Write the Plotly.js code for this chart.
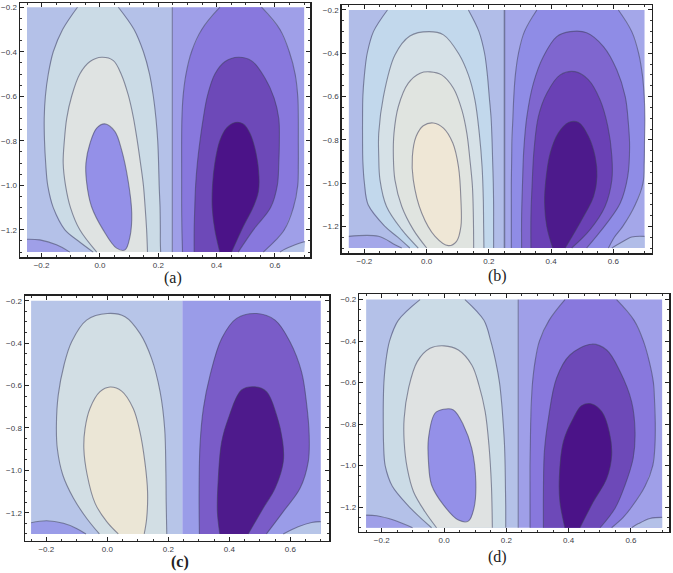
<!DOCTYPE html>
<html>
<head>
<meta charset="utf-8">
<script src="https://cdn.plot.ly/plotly-3.0.1.min.js"></script>
<style>
  html, body { margin: 0; padding: 0; background: #fff; }
  #chart { width: 673px; height: 573px; }
</style>
</head>
<body>
<div id="chart"></div>
<script>
// y values shared by the contours that run from the top edge to the bottom edge
const y_levels = [-0.2, -0.3, -0.4, -0.5, -0.6, -0.7, -0.8, -0.9, -1.0, -1.1, -1.2, -1.25, -1.3]
const y_bg = [-0.2, -0.2, -1.3, -1.3]

// panel a
const a_divider = 0.248
const a_c1_left = [-0.077, -0.128, -0.160, -0.177, -0.187, -0.191, -0.190, -0.186, -0.179, -0.160, -0.120, -0.074, -0.023]
const a_c1_right = [0.063, 0.117, 0.149, 0.170, 0.183, 0.192, 0.198, 0.201, 0.203, 0.206, 0.207, 0.207, 0.208]
const a_c2_x = [-0.011, -0.069, -0.101, -0.118, -0.126, -0.122, -0.114, -0.097, -0.069, -0.034, 0.006, 0.046, 0.074, 0.097, 0.114, 0.128, 0.139, 0.149, 0.155, 0.160, 0.163]
const a_c2_y = [-1.3, -1.2, -1.1, -1.0, -0.9, -0.8, -0.7, -0.6, -0.5, -0.444, -0.425, -0.44, -0.504, -0.594, -0.691, -0.8, -0.9, -1.0, -1.1, -1.2, -1.3]
const a_c3_x = [0.017, -0.011, -0.034, -0.048, -0.046, -0.029, 0.011, 0.057, 0.086, 0.103, 0.109, 0.097, 0.074, 0.051, 0.017]
const a_c3_y = [-0.724, -0.743, -0.811, -0.9, -0.983, -1.095, -1.2, -1.282, -1.29, -1.23, -1.125, -0.983, -0.84, -0.758, -0.724]
const a_r1_left = [0.411, 0.349, 0.314, 0.295, 0.285, 0.281, 0.280, 0.280, 0.280, 0.280, 0.281, 0.282, 0.283]
const a_r1_right = [0.554, 0.617, 0.649, 0.669, 0.678, 0.680, 0.680, 0.680, 0.678, 0.663, 0.632, 0.600, 0.560]
const a_r2_x = [0.323, 0.323, 0.325, 0.328, 0.334, 0.343, 0.354, 0.368, 0.394, 0.429, 0.474, 0.520, 0.566, 0.597, 0.613, 0.615, 0.613, 0.608, 0.585, 0.526, 0.474]
const a_r2_y = [-1.3, -1.2, -1.1, -1.0, -0.9, -0.8, -0.7, -0.6, -0.5, -0.444, -0.425, -0.441, -0.519, -0.608, -0.7, -0.8, -0.9, -1.0, -1.1, -1.2, -1.3]
const a_r3_x = [0.411, 0.394, 0.385, 0.386, 0.394, 0.411, 0.434, 0.463, 0.491, 0.514, 0.535, 0.545, 0.543, 0.526, 0.491, 0.451]
const a_r3_y = [-1.3, -1.2, -1.1, -1.0, -0.9, -0.8, -0.743, -0.718, -0.724, -0.766, -0.856, -0.96, -1.028, -1.095, -1.185, -1.3]
const a_bl_x = [-0.25, -0.206, -0.149, -0.103]
const a_bl_y = [-1.242, -1.245, -1.267, -1.3]
const a_br_x = [0.703, 0.669, 0.629, 0.617]
const a_br_y = [-1.252, -1.267, -1.29, -1.3]

// panel b
const b_divider = 0.25
const b_c1_left = [-0.126, -0.171, -0.191, -0.200, -0.205, -0.206, -0.206, -0.205, -0.200, -0.188, -0.134, -0.093, -0.054]
const b_c1_right = [0.134, 0.168, 0.186, 0.195, 0.201, 0.207, 0.210, 0.212, 0.214, 0.215, 0.215, 0.215, 0.215]
const b_c2_x = [-0.027, -0.08, -0.129, -0.15, -0.154, -0.154, -0.139, -0.102, -0.054, 0.008, 0.054, 0.102, 0.134, 0.155, 0.169, 0.178, 0.182, 0.183, 0.184]
const b_c2_y = [-1.3, -1.215, -1.108, -0.985, -0.877, -0.769, -0.6, -0.408, -0.32, -0.3, -0.315, -0.4, -0.5, -0.615, -0.769, -0.923, -1.077, -1.2, -1.3]
const b_c3_x = [0, -0.043, -0.08, -0.102, -0.107, -0.105, -0.091, -0.059, -0.021, 0.011, 0.048, 0.086, 0.113, 0.129, 0.139, 0.147, 0.15, 0.151]
const b_c3_y = [-1.3, -1.215, -1.108, -0.985, -0.877, -0.769, -0.646, -0.538, -0.492, -0.486, -0.5, -0.562, -0.662, -0.769, -0.892, -1.015, -1.154, -1.3]
const b_c4_x = [0.021, -0.011, -0.034, -0.046, -0.043, -0.016, 0.027, 0.07, 0.096, 0.11, 0.11, 0.102, 0.084, 0.054, 0.021]
const b_c4_y = [-0.722, -0.735, -0.785, -0.877, -0.985, -1.138, -1.246, -1.289, -1.269, -1.2, -1.077, -0.923, -0.815, -0.746, -0.722]
const b_r1_left = [0.354, 0.314, 0.295, 0.285, 0.280, 0.277, 0.274, 0.273, 0.272, 0.272, 0.272, 0.272, 0.272]
const b_r1_right = [0.616, 0.659, 0.681, 0.693, 0.699, 0.701, 0.700, 0.699, 0.695, 0.670, 0.630, 0.603, 0.584]
const b_r2_x = [0.305, 0.305, 0.308, 0.312, 0.322, 0.343, 0.375, 0.418, 0.461, 0.514, 0.568, 0.611, 0.638, 0.648, 0.652, 0.646, 0.622, 0.579, 0.536, 0.514]
const b_r2_y = [-1.3, -1.154, -1.0, -0.846, -0.692, -0.538, -0.415, -0.323, -0.3, -0.305, -0.369, -0.477, -0.6, -0.723, -0.831, -0.969, -1.092, -1.185, -1.262, -1.3]
const b_r3_x = [0.335, 0.335, 0.339, 0.345, 0.359, 0.386, 0.429, 0.477, 0.52, 0.557, 0.582, 0.595, 0.595, 0.573, 0.525, 0.466]
const b_r3_y = [-1.3, -1.154, -1.0, -0.846, -0.692, -0.585, -0.5, -0.485, -0.523, -0.615, -0.738, -0.877, -0.985, -1.108, -1.215, -1.3]
const b_r4_x = [0.405, 0.386, 0.379, 0.383, 0.397, 0.423, 0.456, 0.488, 0.52, 0.541, 0.547, 0.536, 0.498, 0.445]
const b_r4_y = [-1.3, -1.2, -1.092, -0.985, -0.862, -0.769, -0.72, -0.72, -0.785, -0.877, -0.969, -1.062, -1.169, -1.3]
const b_bl_x = [-0.25, -0.155, -0.102, -0.08]
const b_bl_y = [-1.246, -1.246, -1.285, -1.3]
const b_br_x = [0.70, 0.659, 0.622, 0.595]
const b_br_y = [-1.246, -1.249, -1.277, -1.3]

// panel c
const c_divider = 0.246
const c_c1_x = [-0.026, -0.068, -0.111, -0.146, -0.164, -0.167, -0.161, -0.142, -0.117, -0.068, 0, 0.058, 0.107, 0.145, 0.173, 0.188, 0.192, 0.193, 0.195]
const c_c1_y = [-1.3, -1.226, -1.132, -1.022, -0.897, -0.787, -0.645, -0.503, -0.393, -0.291, -0.26, -0.275, -0.354, -0.472, -0.629, -0.803, -1.007, -1.148, -1.3]
const c_c2_x = [0.036, -0.002, -0.04, -0.066, -0.077, -0.073, -0.057, -0.024, 0.009, 0.047, 0.085, 0.107, 0.123, 0.132, 0.129, 0.121]
const c_c2_y = [-1.3, -1.242, -1.156, -1.022, -0.897, -0.802, -0.708, -0.629, -0.607, -0.626, -0.708, -0.818, -0.959, -1.101, -1.227, -1.3]
const c_r1_x = [0.302, 0.301, 0.304, 0.315, 0.337, 0.375, 0.424, 0.49, 0.55, 0.599, 0.637, 0.654, 0.662, 0.659, 0.632, 0.577, 0.522]
const c_r1_y = [-1.3, -1.101, -0.881, -0.708, -0.551, -0.378, -0.283, -0.26, -0.291, -0.393, -0.535, -0.692, -0.834, -0.959, -1.085, -1.195, -1.3]
const c_r2_x = [0.369, 0.361, 0.364, 0.375, 0.397, 0.44, 0.484, 0.522, 0.555, 0.575, 0.577, 0.55, 0.511, 0.462]
const c_r2_y = [-1.3, -1.195, -1.038, -0.865, -0.755, -0.621, -0.606, -0.629, -0.739, -0.865, -0.959, -1.085, -1.179, -1.3]
const c_bl_x = [-0.25, -0.199, -0.144, -0.101, -0.07]
const c_bl_y = [-1.247, -1.238, -1.25, -1.274, -1.3]
const c_br_x = [0.70, 0.67, 0.626, 0.577]
const c_br_y = [-1.242, -1.246, -1.266, -1.3]

// panel d
const d_divider = 0.238
const d_c1_left = [-0.077, -0.147, -0.175, -0.187, -0.193, -0.195, -0.195, -0.194, -0.189, -0.166, -0.111, -0.077, -0.04]
const d_c1_right = [0.067, 0.128, 0.15, 0.166, 0.178, 0.185, 0.19, 0.194, 0.196, 0.197, 0.198, 0.198, 0.198]
const d_c2_x = [-0.024, -0.061, -0.098, -0.118, -0.128, -0.128, -0.114, -0.086, -0.045, 0, 0.046, 0.089, 0.112, 0.132, 0.144, 0.152, 0.155]
const d_c2_y = [-1.3, -1.223, -1.126, -1.014, -0.885, -0.772, -0.628, -0.499, -0.435, -0.423, -0.443, -0.515, -0.612, -0.74, -0.9, -1.093, -1.3]
const d_c3_x = [-0.002, -0.029, -0.05, -0.05, -0.04, -0.002, 0.046, 0.078, 0.096, 0.102, 0.089, 0.062, 0.03, -0.002]
const d_c3_y = [-0.729, -0.748, -0.869, -0.981, -1.094, -1.19, -1.263, -1.268, -1.206, -1.078, -0.917, -0.804, -0.732, -0.729]
const d_r1_left = [0.388, 0.337, 0.306, 0.292, 0.284, 0.28, 0.278, 0.277, 0.276, 0.276, 0.276, 0.276, 0.276]
const d_r1_right = [0.554, 0.61, 0.64, 0.659, 0.672, 0.676, 0.678, 0.677, 0.67, 0.645, 0.602, 0.575, 0.538]
const d_r2_x = [0.319, 0.319, 0.322, 0.335, 0.361, 0.404, 0.474, 0.522, 0.565, 0.602, 0.613, 0.607, 0.581, 0.549, 0.501]
const d_r2_y = [-1.3, -1.126, -0.933, -0.772, -0.579, -0.467, -0.415, -0.443, -0.547, -0.692, -0.836, -0.965, -1.094, -1.206, -1.3]
const d_r3_x = [0.388, 0.372, 0.37, 0.383, 0.415, 0.442, 0.474, 0.506, 0.53, 0.538, 0.522, 0.479, 0.436]
const d_r3_y = [-1.3, -1.175, -1.062, -0.885, -0.772, -0.711, -0.703, -0.74, -0.836, -0.949, -1.062, -1.175, -1.3]
const d_bl_x = [-0.25, -0.216, -0.162, -0.101]
const d_bl_y = [-1.239, -1.242, -1.263, -1.3]
const d_br_x = [0.70, 0.661, 0.624, 0.602]
const d_br_y = [-1.25, -1.255, -1.28, -1.3]

const tick_vals_y = [-0.2, -0.4, -0.6, -0.8, -1.0, -1.2]
const tick_vals_x = [-0.2, 0.0, 0.2, 0.4, 0.6]
const panel_labels = ['(a)', '(b)', '(c)', '(d)']

const page_w = 673
const page_h = 573
const contour_line = { color: 'rgba(62, 64, 92, 0.55)', width: 1.1, shape: 'spline', smoothing: 1 }

let data = []

const fillTrace = (axes, xs, ys, color, shape) => ({
    x: xs, y: ys, xaxis: axes[0], yaxis: axes[1],
    type: 'scatter', mode: 'lines', fill: 'toself', fillcolor: color,
    line: { width: 0, shape: shape, smoothing: 1 }, hoverinfo: 'skip', showlegend: false
})
const lineTrace = (axes, xs, ys, line) => ({
    x: xs, y: ys, xaxis: axes[0], yaxis: axes[1],
    type: 'scatter', mode: 'lines', line: line,
    hoverinfo: 'skip', showlegend: false
})

const addBands = (axes, divider, left_color, right_color) => {
    data.push(fillTrace(axes, [-0.25, divider, divider, -0.25], y_bg, left_color, 'linear'))
    data.push(fillTrace(axes, [divider, 0.7, 0.7, divider], y_bg, right_color, 'linear'))
}
// two arcs: the fill has square corners on the plot edge, the lines on top are smoothed
const addOpen = (axes, left, right, color) => {
    let xs = left.concat(right.slice().reverse())
    let ys = y_levels.concat(y_levels.slice().reverse())
    data.push(fillTrace(axes, xs, ys, color, 'linear'))
    data.push(lineTrace(axes, left, y_levels, contour_line))
    data.push(lineTrace(axes, right, y_levels, contour_line))
}
const addLoop = (axes, xs, ys, color) => {
    data.push(fillTrace(axes, xs, ys, color, 'spline'))
    data.push(lineTrace(axes, xs, ys, contour_line))
}
const addCorner = (axes, xs, ys, corner_x, color) => {
    data.push(fillTrace(axes, xs.concat([corner_x]), ys.concat([-1.3]), color, 'linear'))
    data.push(lineTrace(axes, xs, ys, contour_line))
}
const addDivider = (axes, divider, width) => {
    data.push(lineTrace(axes, [divider, divider], [-0.2, -1.3], { color: 'rgba(70, 76, 110, 0.65)', width: width }))
}

// a
let axes_a = ['x', 'y']
addBands(axes_a, a_divider, '#b4c1e8', '#9f9fe8')
addOpen(axes_a, a_c1_left, a_c1_right, '#cbdbe6')
addLoop(axes_a, a_c2_x, a_c2_y, '#dfe3e2')
addLoop(axes_a, a_c3_x, a_c3_y, '#9490e8')
addOpen(axes_a, a_r1_left, a_r1_right, '#8878dd')
addLoop(axes_a, a_r2_x, a_r2_y, '#6d49b8')
addLoop(axes_a, a_r3_x, a_r3_y, '#4b1388')
addCorner(axes_a, a_bl_x, a_bl_y, -0.25, '#9f9fe8')
addCorner(axes_a, a_br_x, a_br_y, 0.7, '#b4c1e8')
addDivider(axes_a, a_divider, 1)

// b
let axes_b = ['x2', 'y2']
addBands(axes_b, b_divider, '#b1bde8', '#a4a7e9')
addOpen(axes_b, b_c1_left, b_c1_right, '#c2d8ec')
addLoop(axes_b, b_c2_x, b_c2_y, '#d6e1e7')
addLoop(axes_b, b_c3_x, b_c3_y, '#e0e4e0')
addLoop(axes_b, b_c4_x, b_c4_y, '#efe7d6')
addOpen(axes_b, b_r1_left, b_r1_right, '#8f8ce6')
addLoop(axes_b, b_r2_x, b_r2_y, '#7f66cf')
addLoop(axes_b, b_r3_x, b_r3_y, '#6a41b5')
addLoop(axes_b, b_r4_x, b_r4_y, '#4d1a8c')
addCorner(axes_b, b_bl_x, b_bl_y, -0.25, '#a4a7e9')
addCorner(axes_b, b_br_x, b_br_y, 0.7, '#b1bde8')
addDivider(axes_b, b_divider, 1.5)

// c has no visible line on the divider
let axes_c = ['x3', 'y3']
addBands(axes_c, c_divider, '#b7c5e8', '#9a9ce8')
addLoop(axes_c, c_c1_x, c_c1_y, '#d2dee4')
addLoop(axes_c, c_c2_x, c_c2_y, '#ebe6d6')
addLoop(axes_c, c_r1_x, c_r1_y, '#7a5cc8')
addLoop(axes_c, c_r2_x, c_r2_y, '#4e1a8c')
addCorner(axes_c, c_bl_x, c_bl_y, -0.25, '#9a9ce8')
addCorner(axes_c, c_br_x, c_br_y, 0.7, '#b7c5e8')

// d
let axes_d = ['x4', 'y4']
addBands(axes_d, d_divider, '#b4c1e8', '#9f9fe8')
addOpen(axes_d, d_c1_left, d_c1_right, '#cbdbe6')
addLoop(axes_d, d_c2_x, d_c2_y, '#dfe2e2')
addLoop(axes_d, d_c3_x, d_c3_y, '#9490e8')
addOpen(axes_d, d_r1_left, d_r1_right, '#8878dd')
addLoop(axes_d, d_r2_x, d_r2_y, '#6d49b8')
addLoop(axes_d, d_r3_x, d_r3_y, '#4b1388')
addCorner(axes_d, d_bl_x, d_bl_y, -0.25, '#9f9fe8')
addCorner(axes_d, d_br_x, d_br_y, 0.7, '#b4c1e8')
addDivider(axes_d, d_divider, 1)

const axisStyle = (tick_vals, minor_dtick) => ({
    showline: true, linecolor: '#222', linewidth: 1.5, mirror: 'ticks',
    showgrid: false, zeroline: false,
    ticks: 'inside', ticklen: 4, tickwidth: 1, tickcolor: '#222',
    tickmode: 'array', tickvals: tick_vals, tickformat: '.1f',
    minor: { ticks: 'inside', dtick: minor_dtick, tick0: 0, ticklen: 2, tickwidth: 1, tickcolor: '#333', showgrid: false },
    tickfont: { family: 'Liberation Sans, Arial, sans-serif', size: 8, color: '#3d4048' }
})
const xAxis = (left, right, range, anchor) => ({
    ...axisStyle(tick_vals_x, 0.05),
    domain: [left / page_w, right / page_w], range: range, anchor: anchor
})
const yAxis = (top, bottom, range, anchor) => ({
    ...axisStyle(tick_vals_y, 0.05),
    domain: [1 - bottom / page_h, 1 - top / page_h], range: range, anchor: anchor
})
const panelLabel = (text, x, y, bold) => ({
    text: bold ? '<b>' + text + '</b>' : text,
    xref: 'paper', yref: 'paper', x: x / page_w, y: 1 - y / page_h,
    xanchor: 'center', yanchor: 'middle', showarrow: false,
    font: { family: 'Liberation Serif, Times New Roman, serif', size: 16, color: '#222' }
})

const layout = {
    width: page_w,
    height: page_h,
    margin: { l: 0, r: 0, t: 0, b: 0, pad: 0 },
    paper_bgcolor: '#fff',
    plot_bgcolor: '#fff',
    showlegend: false,
    xaxis: xAxis(20, 310, [-0.274, 0.72], 'y'),
    yaxis: yAxis(3, 257, [-1.322, -0.181], 'x'),
    xaxis2: xAxis(341.7, 651.7, [-0.273, 0.723], 'y2'),
    yaxis2: yAxis(5, 253, [-1.323, -0.177], 'x2'),
    xaxis3: xAxis(25, 329.3, [-0.27, 0.728], 'y3'),
    yaxis3: yAxis(295.7, 540.7, [-1.332, -0.176], 'x3'),
    xaxis4: xAxis(359.3, 669.3, [-0.272, 0.723], 'y4'),
    yaxis4: yAxis(294, 531.7, [-1.319, -0.173], 'x4'),
    annotations: [
        panelLabel(panel_labels[0], 173, 278, false),
        panelLabel(panel_labels[1], 497.7, 276, false),
        panelLabel(panel_labels[2], 180, 561.7, true),
        panelLabel(panel_labels[3], 497.7, 556.7, false)
    ]
}

Plotly.newPlot('chart', data, layout, { displayModeBar: false, staticPlot: true })
</script>
</body>
</html>
